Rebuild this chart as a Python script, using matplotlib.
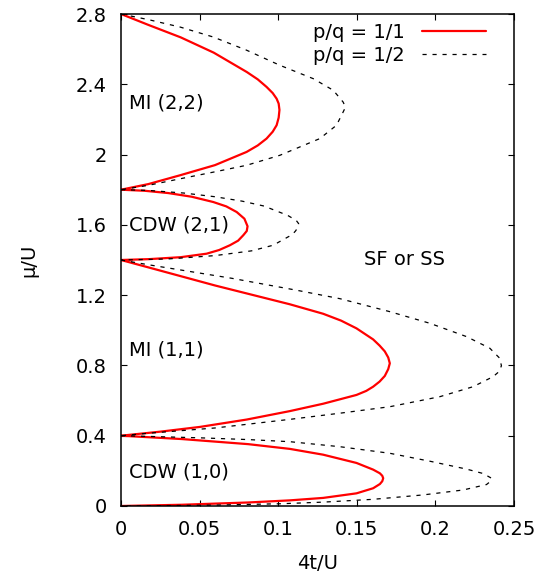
"""
Mean-field phase diagram: Mott / CDW lobes in the (4t/U, mu/U) plane
for p/q = 1/1 and p/q = 1/2.
"""

import matplotlib
matplotlib.use("Agg")
import matplotlib.pyplot as plt

# lobe boundaries, traced from the upper cusp to the lower one
# p/q = 1/1 (solid red)
mi22_x = [0, 0.0174, 0.038, 0.059, 0.080, 0.087, 0.0926, 0.0965, 0.099, 0.1003, 0.1008,
          0.1003, 0.099, 0.0965, 0.0926, 0.087, 0.0799, 0.0598, 0.0375, 0.0174, 0]
mi22_mu = [2.8, 2.738, 2.667, 2.580, 2.470, 2.428, 2.385, 2.350, 2.318, 2.290, 2.254,
           2.210, 2.167, 2.130, 2.091, 2.052, 2.015, 1.940, 1.882, 1.832, 1.8]
cdw21_x = [0, 0.015, 0.030, 0.045, 0.0587, 0.067, 0.0736, 0.0785, 0.0805,
           0.0800, 0.0778, 0.0745, 0.0693, 0.0625, 0.0545, 0.038, 0.018, 0]
cdw21_mu = [1.8, 1.794, 1.781, 1.760, 1.730, 1.705, 1.673, 1.635, 1.592,
            1.565, 1.541, 1.510, 1.484, 1.457, 1.436, 1.416, 1.405, 1.4]
mi11_x = [0, 0.0174, 0.0598, 0.1074, 0.1286, 0.140, 0.1498, 0.1604, 0.1645, 0.1678,
          0.1700, 0.1710, 0.1700, 0.1678, 0.1645, 0.1604, 0.156, 0.1498, 0.1286,
          0.1074, 0.080, 0.0502, 0.025, 0]
mi11_mu = [1.4, 1.358, 1.255, 1.148, 1.094, 1.055, 1.011, 0.948, 0.913, 0.880,
           0.845, 0.812, 0.779, 0.740, 0.708, 0.679, 0.655, 0.632, 0.582,
           0.540, 0.492, 0.450, 0.423, 0.4]
cdw10_x = [0, 0.0386, 0.0809, 0.1074, 0.1286, 0.1498, 0.1604, 0.1647, 0.1662, 0.1668,
           0.1662, 0.1647, 0.1604, 0.1498, 0.1286, 0.1074, 0.0809, 0.0386, 0]
cdw10_mu = [0.4, 0.381, 0.352, 0.325, 0.292, 0.245, 0.207, 0.186, 0.172, 0.158,
            0.141, 0.125, 0.101, 0.072, 0.046, 0.032, 0.020, 0.007, 0]

# p/q = 1/2 (dashed black)
mi22_x_h = [0, 0.0174, 0.0375, 0.0587, 0.0799, 0.1011, 0.1223, 0.135, 0.1413, 0.1428,
            0.1413, 0.1371, 0.1265, 0.1011, 0.0799, 0.0587, 0.0375, 0.0174, 0]
mi22_mu_h = [2.8, 2.768, 2.726, 2.669, 2.594, 2.508, 2.432, 2.366, 2.299, 2.270,
             2.242, 2.167, 2.091, 1.996, 1.939, 1.900, 1.862, 1.825, 1.8]
cdw21_x_h = [0, 0.0174, 0.040, 0.0598, 0.077, 0.091, 0.106, 0.1115, 0.1130,
             0.1125, 0.1110, 0.109, 0.0968, 0.083, 0.0598, 0.030, 0]
cdw21_mu_h = [1.8, 1.796, 1.781, 1.760, 1.735, 1.707, 1.654, 1.625, 1.607,
              1.585, 1.565, 1.545, 1.484, 1.452, 1.425, 1.406, 1.4]
mi11_x_h = [0, 0.0174, 0.0704, 0.1117, 0.1392, 0.171, 0.1964, 0.2198, 0.2346, 0.2409, 0.2420,
            0.2405, 0.2367, 0.224, 0.2028, 0.171, 0.1392, 0.1074, 0.0598, 0.0174, 0]
mi11_mu_h = [1.4, 1.373, 1.296, 1.228, 1.180, 1.106, 1.040, 0.964, 0.898, 0.841, 0.798,
             0.765, 0.736, 0.679, 0.622, 0.565, 0.528, 0.493, 0.444, 0.414, 0.4]
cdw10_x_h = [0, 0.0174, 0.050, 0.0809, 0.1074, 0.1392, 0.171, 0.1964, 0.2198, 0.2303, 0.2357,
             0.2350, 0.2325, 0.2176, 0.1922, 0.1604, 0.1286, 0.1022, 0.0598, 0]
cdw10_mu_h = [0.4, 0.396, 0.388, 0.378, 0.366, 0.3375, 0.300, 0.255, 0.210, 0.185, 0.158,
              0.140, 0.122, 0.091, 0.063, 0.038, 0.022, 0.013, 0.005, 0]

phase_labels = ["MI (2,2)", "CDW (2,1)", "MI (1,1)", "CDW (1,0)"]
phase_label_mu = [2.294, 1.60, 0.888, 0.195]

x_ticks = [0, 0.05, 0.1, 0.15, 0.2, 0.25]
x_ticklabels = ["0", "0.05", "0.1", "0.15", "0.2", "0.25"]
y_ticks = [0, 0.4, 0.8, 1.2, 1.6, 2.0, 2.4, 2.8]
y_ticklabels = ["0", "0.4", "0.8", "1.2", "1.6", "2", "2.4", "2.8"]


def main():
    plt.rcParams["font.family"] = ["DejaVu Sans"]
    plt.rcParams["font.size"] = 14
    plt.rcParams["lines.scale_dashes"] = False

    fig = plt.figure(figsize=(5.54, 5.81), dpi=100)
    ax = fig.add_axes([0.2184, 0.1291, 0.7094, 0.8468])

    red = dict(color="#ff0000", lw=1.6, solid_capstyle="round", solid_joinstyle="round")
    dash = dict(color="black", lw=0.9, dashes=(3.0, 4.2))

    ax.plot(mi22_x, mi22_mu, label="p/q = 1/1", **red)
    for xs, ys in [(cdw21_x, cdw21_mu), (mi11_x, mi11_mu), (cdw10_x, cdw10_mu)]:
        ax.plot(xs, ys, **red)

    ax.plot(mi22_x_h, mi22_mu_h, label="p/q = 1/2", **dash)
    for xs, ys in [(cdw21_x_h, cdw21_mu_h), (mi11_x_h, mi11_mu_h), (cdw10_x_h, cdw10_mu_h)]:
        ax.plot(xs, ys, **dash)

    for lab, mu in zip(phase_labels, phase_label_mu):
        ax.text(0.005, mu, lab, ha="left", va="center")
    ax.text(0.1802, 1.40, "SF or SS", ha="center", va="center")

    ax.set_xlim(0, 0.25)
    ax.set_ylim(0, 2.8)
    ax.set_xticks(x_ticks)
    ax.set_xticklabels(x_ticklabels)
    ax.set_yticks(y_ticks)
    ax.set_yticklabels(y_ticklabels)
    ax.tick_params(direction="in", length=4.5, width=0.8, top=True, right=True)
    ax.tick_params(axis="x", pad=10)
    ax.tick_params(axis="y", pad=10)
    for sp in ax.spines.values():
        sp.set_linewidth(1.1)

    ax.set_xlabel("4t/U", labelpad=11)
    ax.set_ylabel("μ/U", labelpad=27)

    ax.legend(loc="upper right", bbox_to_anchor=(0.949, 0.998), frameon=False,
              markerfirst=False, handlelength=3.3, handletextpad=0.87,
              labelspacing=0.2, borderaxespad=0)

    fig.savefig("out.png", dpi=100)


if __name__ == "__main__":
    main()
